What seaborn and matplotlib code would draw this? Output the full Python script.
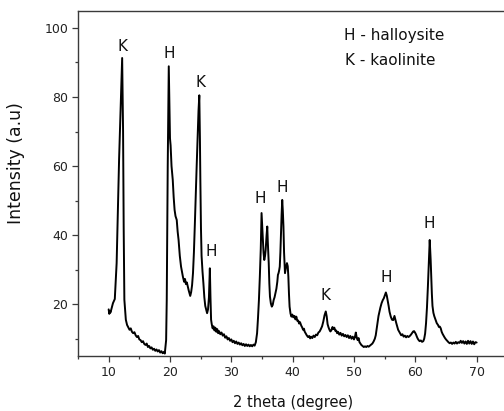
import matplotlib
matplotlib.use("Agg")
import matplotlib.pyplot as plt
from matplotlib.ticker import MultipleLocator
import seaborn as sns
import pandas as pd

# XRD pattern: 2-theta positions (degree) and intensities (a.u)
two_theta = [
    10.0, 10.1, 10.2, 10.3, 10.5, 10.7, 11.0, 11.3, 11.5, 11.7, 11.9, 12.05, 12.2, 12.35, 12.45, 12.56,
    12.8, 13.0, 13.2, 13.4, 13.6, 13.8, 14.0, 14.2, 14.4, 14.6, 14.8, 15.0, 15.2, 15.4, 15.6, 15.8,
    16.0, 16.2, 16.4, 16.6, 16.8, 17.0, 17.2, 17.4, 17.6, 17.8, 18.0, 18.2, 18.4, 18.6, 18.8, 19.0,
    19.15, 19.37, 19.47, 19.63, 19.72, 19.8,
    19.9, 20.0, 20.1, 20.25, 20.45, 20.6, 20.75, 20.9, 21.1, 21.25, 21.4, 21.6, 21.8, 21.95, 22.1,
    22.3, 22.45, 22.6, 22.75, 22.9, 23.05, 23.2, 23.3, 23.45, 23.6, 23.75, 23.9, 24.05, 24.2, 24.35,
    24.5, 24.65, 24.78, 24.88, 24.95, 25.05, 25.15, 25.3, 25.45, 25.6, 25.75, 25.9, 26.05, 26.2,
    26.35, 26.5, 26.6, 26.7, 26.8, 26.95, 27.1, 27.25, 27.4, 27.55, 27.7, 27.85, 28.0, 28.2, 28.4,
    28.6, 28.8, 29.0, 29.2, 29.4, 29.6, 29.8, 30.0, 30.2, 30.4, 30.6, 30.8, 31.0, 31.2, 31.4, 31.6,
    31.8, 32.0, 32.2, 32.4, 32.6, 32.8, 33.0, 33.2, 33.4, 33.6, 33.8, 34.0, 34.2, 34.35, 34.5, 34.65,
    34.8, 34.93, 35.05, 35.15, 35.25, 35.37, 35.5, 35.6, 35.75, 35.86, 35.95, 36.1, 36.2, 36.3,
    36.45, 36.6, 36.75, 36.9, 37.05, 37.2, 37.35, 37.5, 37.6, 37.7, 37.8, 37.9, 38.0, 38.1, 38.2,
    38.3, 38.4, 38.5, 38.6, 38.75, 38.9, 39.07, 39.2, 39.3, 39.4, 39.5, 39.65, 39.8, 39.95, 40.1,
    40.3, 40.45, 40.6, 40.75, 40.9, 41.05, 41.2, 41.4, 41.55, 41.7, 41.85, 41.95, 42.1, 42.3, 42.5,
    42.7, 42.85, 43.0, 43.2, 43.4, 43.6, 43.8, 44.0, 44.2, 44.4, 44.6, 44.8, 45.0, 45.2, 45.4, 45.55,
    45.7, 45.85, 46.0, 46.15, 46.3, 46.5, 46.65, 46.8, 46.95, 47.1, 47.25, 47.4, 47.6, 47.8, 48.0,
    48.2, 48.4, 48.6, 48.8, 49.0, 49.2, 49.4, 49.6, 49.8, 50.0, 50.15, 50.3, 50.45, 50.6, 50.75,
    50.9, 51.05, 51.2, 51.4, 51.6, 51.8, 52.0, 52.2, 52.4, 52.6, 52.8, 53.0, 53.2, 53.4, 53.55, 53.7,
    53.85, 54.0, 54.15, 54.3, 54.5, 54.7, 54.86, 55.0, 55.2, 55.35, 55.5, 55.65, 55.8, 56.0, 56.2,
    56.4, 56.6, 56.75, 56.9, 57.05, 57.2, 57.35, 57.5, 57.7, 57.9, 58.1, 58.3, 58.5, 58.7, 58.9,
    59.1, 59.3, 59.5, 59.65, 59.8, 59.95, 60.1, 60.25, 60.4, 60.55, 60.7, 60.9, 61.1, 61.3, 61.45,
    61.6, 61.75, 61.9, 62.05, 62.2, 62.35, 62.5, 62.6, 62.7, 62.8, 62.95, 63.1, 63.3, 63.5, 63.7,
    63.85, 64.0, 64.15, 64.3, 64.45, 64.6, 64.8, 65.0, 65.2, 65.4, 65.6, 65.8, 66.0, 66.2, 66.4,
    66.6, 66.8, 67.0, 67.2, 67.4, 67.6, 67.8, 68.0, 68.2, 68.4, 68.6, 68.8, 69.0, 69.2, 69.4, 69.6,
    69.8, 70.0,
]
intensity = [
    18.5, 17.2, 18.0, 17.6, 19.0, 20.3, 21.5, 31.9, 47.0, 62.0, 74.0, 84.0, 91.3, 70.0, 42.0, 21.3,
    15.5, 14.0, 13.3, 12.6, 13.0, 12.0, 11.6, 11.9, 11.0, 10.5, 10.8, 9.8, 9.6, 9.0, 9.3, 8.5,
    8.2, 8.6, 7.6, 7.9, 7.2, 7.5, 6.8, 7.1, 6.5, 6.9, 6.3, 6.7, 6.0, 6.4, 5.8, 6.2,
    5.7, 9.6, 21.2, 59.9, 76.0, 88.9,
    78.0, 68.0, 66.0, 60.0, 56.0, 51.0, 47.3, 45.5, 44.4, 41.0, 38.6, 34.0, 30.9, 29.5, 28.0,
    26.5, 27.3, 25.8, 26.3, 25.1, 24.0, 23.0, 22.4, 23.5, 25.5, 29.0, 35.0, 43.0, 52.0, 60.0,
    67.6, 76.0, 80.5, 68.0, 56.0, 42.0, 34.0, 29.5, 26.0, 22.0, 19.5, 18.4, 17.4, 18.5,
    22.0, 30.4, 22.0, 15.5, 14.3, 13.0, 13.6, 12.4, 13.2, 12.0, 12.8, 11.6, 12.2, 11.3, 11.8,
    10.9, 11.3, 10.3, 10.7, 9.8, 10.2, 9.4, 9.8, 9.0, 9.4, 8.7, 9.2, 8.5, 8.9, 8.3, 8.7,
    8.1, 8.5, 7.9, 8.4, 7.9, 8.3, 7.8, 8.2, 7.8, 8.3, 8.0, 9.0, 11.6, 16.0, 21.2, 28.0,
    36.0, 46.4, 42.0, 37.7, 35.0, 32.8, 34.0, 35.7, 40.0, 42.5, 38.0, 31.9, 26.0, 22.2,
    20.2, 19.3, 19.8, 21.2, 22.0, 23.2, 24.5, 26.5, 28.5, 29.0, 29.8, 30.9, 35.0, 40.6, 46.0,
    50.2, 47.0, 42.5, 35.0, 29.0, 30.5, 31.9, 31.0, 28.0, 23.0, 19.3, 17.3, 16.4, 17.0, 16.2,
    16.6, 15.6, 16.4, 15.2, 15.3, 14.4, 14.8, 13.8, 13.3, 12.6, 12.9, 12.1, 11.6, 11.0, 10.5,
    10.8, 10.1, 10.6, 10.2, 10.9, 10.5, 11.2, 11.0, 11.8, 12.1, 12.8, 13.6, 15.0, 16.8, 17.9, 16.5,
    14.2, 13.3, 12.6, 12.1, 12.4, 13.4, 12.8, 13.2, 12.3, 12.4, 11.6, 12.0, 11.2, 11.7, 10.9,
    11.4, 10.7, 11.1, 10.5, 11.0, 10.2, 10.8, 10.0, 10.6, 9.8, 10.5, 11.8, 10.3, 9.6, 10.2,
    9.0, 8.6, 8.2, 7.9, 7.6, 7.8, 7.6, 7.9, 7.7, 8.0, 8.3, 8.6, 9.2, 10.0, 11.0, 12.8,
    14.8, 16.6, 17.8, 19.0, 20.3, 21.2, 21.7, 22.4, 23.4, 22.5, 21.0, 19.5, 17.8, 16.4, 15.5,
    15.4, 16.6, 15.5, 14.5, 13.5, 12.6, 12.1, 11.6, 11.0, 11.3, 10.6, 10.9, 10.4, 10.8, 10.5,
    10.8, 11.2, 11.7, 12.1, 12.2, 11.8, 11.3, 10.6, 10.0, 9.6, 9.3, 9.5, 9.1, 9.3, 10.0,
    11.5, 14.5, 19.0, 25.0, 32.0, 38.6, 33.0, 28.0, 23.0, 19.5, 17.5, 16.5, 15.5, 14.5, 14.0,
    13.4, 13.5, 13.0, 12.0, 11.4, 10.9, 10.3, 9.8, 9.4, 9.0, 8.7, 8.9, 8.5, 8.9, 8.6,
    9.1, 8.6, 9.0, 8.8, 9.4, 8.8, 9.3, 8.6, 9.2, 8.5, 9.4, 8.6, 9.3, 8.5, 9.2, 8.4,
    9.0, 8.9,
]

# Phase labels placed above the reflections
peak_labels = ["K", "H", "K", "H", "H", "H", "K", "H", "H"]
label_x = [12.28, 19.8, 24.97, 26.72, 34.72, 38.25, 45.39, 55.3, 62.26]
label_y = [93.2, 91.3, 82.9, 34.0, 49.3, 52.5, 21.2, 26.3, 42.0]

key_lines = ["H - halloysite", "K - kaolinite"]

df = pd.DataFrame({"two_theta": two_theta, "intensity": intensity})

sns.set_style("ticks")
plt.rcParams["font.family"] = ["DejaVu Sans"]

fig = plt.figure(figsize=(5.04, 4.11), dpi=100)
ax = fig.add_axes([78 / 504, 1 - 356 / 411, (507.3 - 78) / 504, (356 - 10.7) / 411])

sns.lineplot(data=df, x="two_theta", y="intensity", estimator=None, sort=False,
             color="black", linewidth=1.4, ax=ax)

ax.set_xlim(5, 75)
ax.set_ylim(5, 105)
ax.xaxis.set_major_locator(MultipleLocator(10))
ax.xaxis.set_minor_locator(MultipleLocator(5))
ax.yaxis.set_minor_locator(MultipleLocator(10))
ax.set_yticks([20, 40, 60, 80, 100])

spine_color = "#3a3a3a"
for s in ax.spines.values():
    s.set_visible(True)
    s.set_color(spine_color)
    s.set_linewidth(1.0)

ax.tick_params(axis="both", which="major", direction="out", length=4.5, width=0.9,
               color=spine_color, labelsize=9, pad=2.5, labelcolor="#222222")
ax.tick_params(axis="both", which="minor", direction="out", length=2.5, width=0.9,
               color=spine_color)

ax.set_xlabel("2 theta (degree)", fontsize=10.5, color="#111111")
ax.set_ylabel("Intensity (a.u)", fontsize=12.5, color="#111111")
ax.xaxis.set_label_coords(0.5, -0.113)
ax.yaxis.set_label_coords(-0.1246, 0.559)

for lab, lx, ly in zip(peak_labels, label_x, label_y):
    ax.text(lx, ly, lab, ha="center", va="baseline", fontsize=11, color="#111111")

ax.text(48.4, 96.4, key_lines[0], ha="left", va="baseline", fontsize=11, color="#111111")
ax.text(48.6, 89.3, key_lines[1], ha="left", va="baseline", fontsize=11, color="#111111")

fig.savefig("out.png", dpi=100)
